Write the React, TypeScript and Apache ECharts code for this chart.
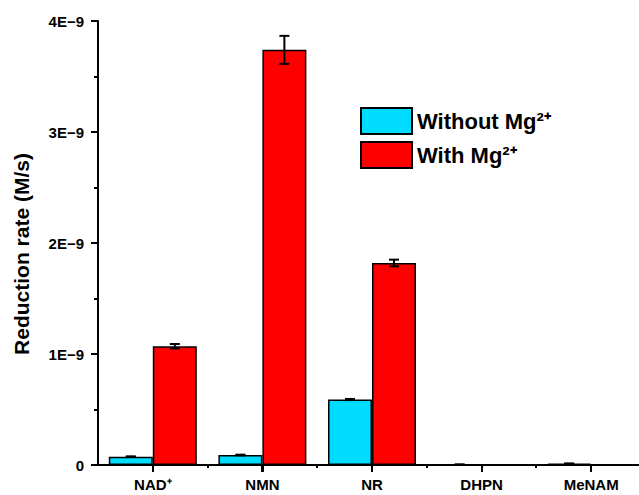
import React, { useEffect, useRef } from "react";
import * as echarts from "echarts";

const categories = ["NAD\u207A", "NMN", "NR", "DHPN", "MeNAM"];
const withoutMg = [0.075e-9, 0.09e-9, 0.59e-9, 0.004e-9, 0.012e-9];
const withoutMgErr = [0.003e-9, 0.003e-9, 0.005e-9, 0.001e-9, 0.002e-9];
const withMg = [1.07e-9, 3.74e-9, 1.82e-9, 0, 0];
const withMgErr = [0.02e-9, 0.126e-9, 0.03e-9, 0, 0];
const yTickLabels = ["0", "1E\u22129", "2E\u22129", "3E\u22129", "4E\u22129"];
const seriesNames = ["Without Mg\u00B2\u207A", "With Mg\u00B2\u207A"];
const Y_MAX = 4e-9;
const Y_INTERVAL = 1e-9;

const FONT = "Liberation Sans, Arial, sans-serif";
const BAR_W = 44;

export default function App() {
  const ref = useRef<HTMLDivElement>(null);
  useEffect(() => {
    if (!ref.current) return;
    document.body.style.margin = "0";
    const chart = echarts.init(ref.current, null, { renderer: "svg" });

    const errData = (vals: number[], errs: number[], offset: number) =>
      vals.map((v, i) => [i, v - errs[i], v + errs[i], offset]);

    const lineStyle = { stroke: "#000", lineWidth: 2 };

    const renderErr = (params: any, api: any) => {
      const idx = api.value(0);
      const lo = api.value(1);
      const hi = api.value(2);
      const off = api.value(3);
      if (hi - lo <= 0) return { type: "group", children: [] };
      const pLo = api.coord([idx, lo]);
      const pHi = api.coord([idx, hi]);
      const x = pLo[0] + off;
      const cap = 5;
      return {
        type: "group",
        children: [
          { type: "line", shape: { x1: x, y1: pLo[1], x2: x, y2: pHi[1] }, style: lineStyle },
          { type: "line", shape: { x1: x - cap, y1: pLo[1], x2: x + cap, y2: pLo[1] }, style: lineStyle },
          { type: "line", shape: { x1: x - cap, y1: pHi[1], x2: x + cap, y2: pHi[1] }, style: lineStyle },
        ],
      };
    };

    // y-axis line and all ticks, placed through the chart's own scales
    const renderAxes = (params: any, api: any) => {
      const p0 = api.coord([0, 0]);
      const p1 = api.coord([1, 0]);
      const band = p1[0] - p0[0];
      const x0 = Math.round(p0[0] - band / 2);
      const yBottom = Math.round(p0[1]);
      const yTop = Math.round(api.coord([0, Y_MAX])[1]);
      const children: any[] = [
        { type: "line", shape: { x1: x0, y1: yTop, x2: x0, y2: yBottom + 1 }, style: lineStyle },
      ];
      const steps = Math.round(Y_MAX / (Y_INTERVAL / 2));
      for (let k = 0; k <= steps; k++) {
        const y = Math.round(api.coord([0, (k * Y_INTERVAL) / 2])[1]);
        const len = k % 2 === 0 ? 7 : 4;
        children.push({ type: "line", shape: { x1: x0 - len, y1: y, x2: x0, y2: y }, style: lineStyle });
      }
      for (let i = 0; i < categories.length; i++) {
        const xc = Math.round(api.coord([i, 0])[0]);
        children.push({ type: "line", shape: { x1: xc, y1: yBottom, x2: xc, y2: yBottom + 7 }, style: lineStyle });
        const xb = Math.round(api.coord([i, 0])[0] + band / 2);
        children.push({ type: "line", shape: { x1: xb, y1: yBottom, x2: xb, y2: yBottom + 3 }, style: lineStyle });
      }
      return { type: "group", children };
    };

    chart.setOption({
      animation: false,
      grid: { left: 98, top: 21, height: 444, width: 548, containLabel: false, outerBoundsMode: "none" },
      legend: {
        orient: "vertical",
        left: 360,
        top: 107,
        padding: 0,
        itemWidth: 51,
        itemHeight: 26,
        itemGap: 6,
        icon: "rect",
        data: seriesNames,
        textStyle: { fontSize: 22, fontWeight: "bold", fontFamily: FONT, color: "#000" },
      },
      xAxis: {
        type: "category",
        data: categories,
        axisLine: { show: true, lineStyle: { color: "#000", width: 2 } },
        axisTick: { show: true, alignWithLabel: true, interval: 0, length: 7, lineStyle: { color: "#000", width: 2 } },
        axisLabel: {
          interval: 0,
          margin: 12,
          fontSize: 15,
          fontWeight: "bold",
          fontFamily: FONT,
          color: "#000",
        },
        splitLine: { show: false },
      },
      yAxis: {
        type: "value",
        min: 0,
        max: Y_MAX,
        interval: Y_INTERVAL,
        name: "Reduction rate (M/s)",
        nameLocation: "middle",
        nameGap: 66,
        nameTextStyle: { fontSize: 21, fontWeight: "bold", fontFamily: FONT, color: "#000", padding: [0, 22, 0, 0] },
        axisLine: { show: true, lineStyle: { color: "#000", width: 2 } },
        axisTick: { show: true, length: 7, lineStyle: { color: "#000", width: 2 } },
        minorTick: { show: true, splitNumber: 2, length: 4, lineStyle: { color: "#000", width: 2 } },
        axisLabel: {
          margin: 14,
          fontSize: 15,
          fontWeight: "bold",
          fontFamily: FONT,
          color: "#000",
          formatter: (v: number) => yTickLabels[Math.round(v / Y_INTERVAL)] ?? "",
        },
        splitLine: { show: false },
      },
      series: [
        {
          name: seriesNames[0],
          type: "bar",
          data: withoutMg,
          barWidth: BAR_W,
          barGap: "0%",
          itemStyle: { color: "#00DCFF", borderColor: "#000", borderWidth: 1.5 },
        },
        {
          name: seriesNames[1],
          type: "bar",
          data: withMg,
          barWidth: BAR_W,
          barGap: "0%",
          itemStyle: { color: "#FF0000", borderColor: "#000", borderWidth: 1.5 },
        },
        {
          type: "custom",
          renderItem: renderErr,
          data: errData(withoutMg, withoutMgErr, -BAR_W / 2),
          encode: { x: 0, y: [1, 2] },
          z: 5,
          silent: true,
        },
        {
          type: "custom",
          renderItem: renderErr,
          data: errData(withMg, withMgErr, BAR_W / 2),
          encode: { x: 0, y: [1, 2] },
          z: 5,
          silent: true,
        },
        {
          type: "custom",
          renderItem: renderAxes,
          data: [[0, 0]],
          encode: { x: 0, y: 1 },
          z: 6,
          silent: true,
          clip: false,
        },
      ],
    });
    return () => chart.dispose();
  }, []);

  return <div ref={ref} style={{ width: 639, height: 495 }} />;
}
